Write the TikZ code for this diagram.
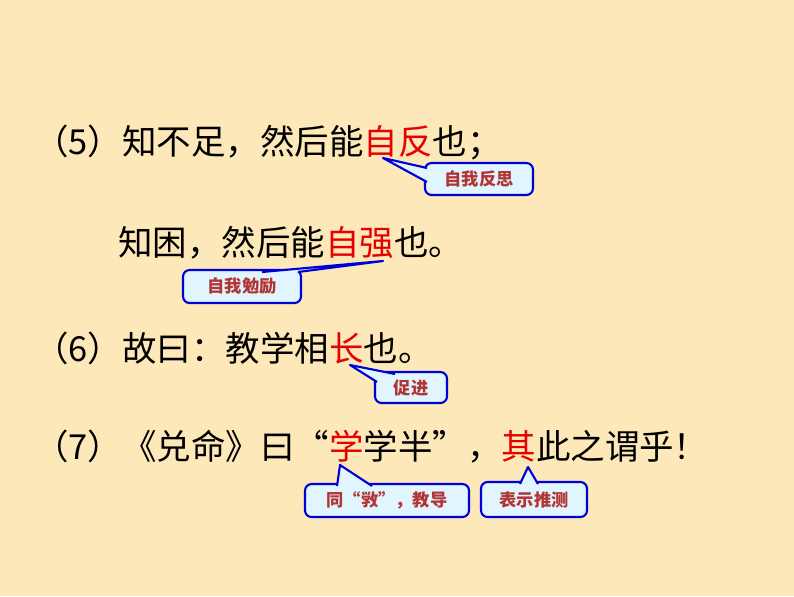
\documentclass[tikz,border=0pt]{standalone}
\usepackage{fontspec}
\usetikzlibrary{calc}
\newfontfamily\cjk{Noto Sans CJK SC}
\definecolor{tr}{RGB}{230,0,0}
\newcommand\mycallout[7]{%
  \fill[cyan!12] #5 -- #6 -- #7 -- cycle;
  \draw[cbox] #2 rectangle #3;
  \fill[cyan!12] #5 -- #6 -- #7 -- cycle;
  \draw[blue!85!black,line width=1.6pt,line join=round] #6 -- #5 -- #7;
  \node[ctext] (#1) at ($#2!0.5!#3$) {#4};}
\begin{document}
\begin{tikzpicture}[x=0.0265cm,y=-0.0265cm,
  line/.style={font=\cjk\fontsize{26}{30}\selectfont,anchor=west,inner sep=0},
  cbox/.style={draw=blue!85!black,line width=1.6pt,fill=cyan!12,rounded corners=5pt},
  ctext/.style={font=\cjk\bfseries\fontsize{13}{15}\selectfont,text=red!55!gray!90!black}]
\fill[yellow!35!orange!25] (0,0) rectangle (794,596);
\useasboundingbox (0,0) rectangle (794,596);
\node[line] (l1) at (34,143) {（5）知不足，然后能\textcolor{tr}{自反}也；};
\node[line] (l2) at (118,243) {知困，然后能\textcolor{tr}{自强}也。};
\node[line] (l3) at (34,348) {（6）故曰：教学相\textcolor{tr}{长}也。};
\node[line] (l4) at (34,447) {（7）《兑命》曰“\textcolor{tr}{学}学半”，\textcolor{tr}{其}此之谓乎！};
\mycallout{c1}{(425,163)}{(533,195)}{自我反思}{(383,158)}{(427,168)}{(427,182)}
\mycallout{c2}{(183,270)}{(301,303)}{自我勉励}{(383,261)}{(262,272)}{(298,272)}
\mycallout{c3}{(375,372)}{(447,403)}{促进}{(350,365)}{(377,382)}{(395,374)}
\mycallout{c4}{(305,484)}{(469,517)}{同“敩”，教导}{(340,465)}{(337,486)}{(372,486)}
\mycallout{c5}{(481,482)}{(587,517)}{表示推测}{(528,467)}{(520,484)}{(538,484)}
\end{tikzpicture}
\end{document}
